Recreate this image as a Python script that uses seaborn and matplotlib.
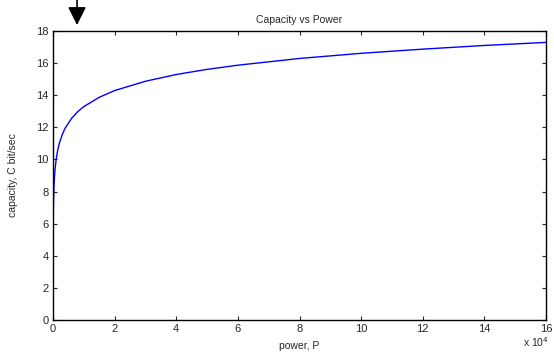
import numpy as np
import pandas as pd
import seaborn as sns
import matplotlib.pyplot as plt

# power P in units of 1e4, capacity C in bit/sec
power = [0, 0.0001, 0.001, 0.01, 0.02, 0.03, 0.05, 0.07, 0.1, 0.15, 0.2, 0.3, 0.4,
         0.6, 0.8, 1.0, 1.5, 2, 3, 4, 5, 6, 8, 10, 12, 14, 16]
capacity = [0, 1.0, 3.46, 6.66, 7.65, 8.23, 8.97, 9.45, 9.97, 10.55, 10.97, 11.55, 11.97,
            12.55, 12.97, 13.29, 13.87, 14.29, 14.87, 15.29, 15.61, 15.87, 16.29,
            16.61, 16.87, 17.10, 17.29]

sns.set_style('ticks')
plt.rcParams['font.family'] = ['Liberation Sans', 'DejaVu Sans']

df = pd.DataFrame({'P': power, 'C': capacity})

fig = plt.figure(figsize=(5.54, 3.56), dpi=100)
ax = fig.add_axes([53/554, 1 - 320/356, (546-53)/554, (320-31)/356])
sns.lineplot(data=df, x='P', y='C', color='#0000ff', lw=1.0, ax=ax)

ax.set_xlim(0, 16)
ax.set_ylim(0, 18)
ax.set_xticks(range(0, 17, 2))
ax.set_yticks(range(0, 19, 2))
ax.tick_params(direction='in', length=3, width=0.8, labelsize=8,
               top=True, right=True, pad=3)
for s in ax.spines.values():
    s.set_linewidth(1.0)
    s.set_color('black')
ax.set_xlabel('power, P', fontsize=7.5, labelpad=5)
ax.set_ylabel('capacity, C bit/sec', fontsize=7.5, labelpad=13)
ax.set_title('Capacity vs Power', fontsize=7.5, pad=6)
ax.text(1.005, -0.075, r'x 10$^4$', transform=ax.transAxes, fontsize=7.5,
        ha='right', va='center')

# arrow above the axes
ax.annotate('', xy=(0.78, 18.37), xytext=(0.78, 20.2), annotation_clip=False,
            arrowprops=dict(arrowstyle='-|>,head_width=0.55,head_length=1.1',
                            color='black', lw=1.2, shrinkA=0, shrinkB=0))

fig.savefig('out.png', dpi=100)
